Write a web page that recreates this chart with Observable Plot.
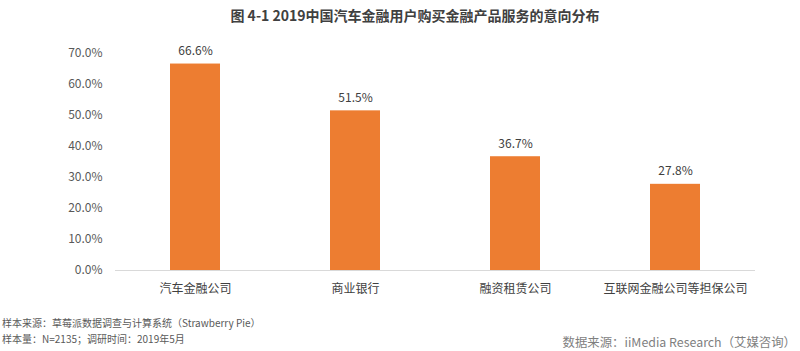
<!DOCTYPE html>
<html><head><meta charset="utf-8">
<script src="https://cdn.jsdelivr.net/npm/d3@7"></script>
<script src="https://cdn.jsdelivr.net/npm/@observablehq/plot@0.6"></script>
<style>
body{margin:0;background:#fff;font-family:"Noto Sans CJK SC","Noto Sans",sans-serif;}
#wrap{position:relative;width:800px;height:351px;overflow:hidden;}
#title{position:absolute;left:0;width:830px;top:5px;text-align:center;font-size:14px;font-weight:700;color:#404040;}
.foot{position:absolute;color:#595959;white-space:nowrap;}
#f1{left:2px;top:315px;font-size:10px;}
#f2{left:2px;top:331px;font-size:10px;}
#f3{right:4px;top:333px;font-size:12.4px;color:#7f7f7f;}
#chart{position:absolute;left:0;top:0;}
</style></head>
<body>
<div id="wrap">
<div id="chart"></div>
<div id="title">图 4-1 2019中国汽车金融用户购买金融产品服务的意向分布</div>
<div class="foot" id="f1">样本来源：草莓派数据调查与计算系统（Strawberry Pie）</div>
<div class="foot" id="f2">样本量：N=2135；调研时间：2019年5月</div>
<div class="foot" id="f3">数据来源：iiMedia Research（艾媒咨询）</div>
</div>
<script>
const categories = ["汽车金融公司","商业银行","融资租赁公司","互联网金融公司等担保公司"];
const values = [66.6, 51.5, 36.7, 27.8];
const yTicks = [0,10,20,30,40,50,60,70];
const data = categories.map((c,i)=>({cat:c, v:values[i]}));
const chart = Plot.plot({
  width:800, height:351,
  marginTop:53, marginBottom:81, marginLeft:115, marginRight:45,
  style:{fontFamily:'"Noto Sans CJK SC","Noto Sans",sans-serif', fontSize:"12px", color:"#595959", background:"transparent"},
  x:{domain:categories, paddingInner:0.69, paddingOuter:0.345, label:null},
  y:{domain:[0,70], ticks:yTicks, label:null},
  marks:[
    Plot.barY(data,{x:"cat", y:"v", fill:"#ED7D31"}),
    Plot.ruleY([0],{stroke:"#d9d9d9", strokeWidth:1}),
    Plot.text(data,{x:"cat", y:"v", text:d=>d.v.toFixed(1)+"%", dy:-13, fill:"#404040", fontSize:12}),
    Plot.axisY({ticks:yTicks, tickSize:0, tickPadding:13, tickFormat:d=>d.toFixed(1)+"%", fontSize:12, fill:"#595959"}),
    Plot.axisX({tickSize:0, tickPadding:14, fontSize:12, fill:"#404040"})
  ]
});
document.getElementById("chart").appendChild(chart);
</script>
</body></html>
